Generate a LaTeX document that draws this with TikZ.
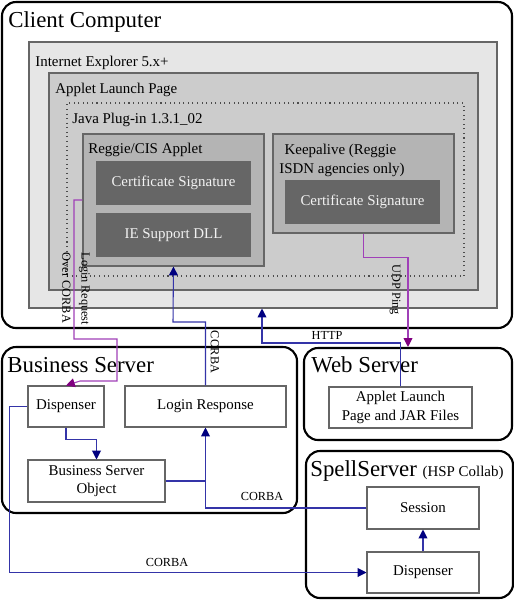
\documentclass[tikz,border=0pt]{standalone}
\usepackage{fontspec}
\setmainfont{Liberation Serif}
\usetikzlibrary{fit, arrows.meta}

\definecolor{iegray}{HTML}{E6E6E6}
\definecolor{pagegray}{HTML}{CCCCCC}
\definecolor{appletgray}{HTML}{B4B4B4}
\definecolor{sigdark}{HTML}{666666}
\definecolor{wireblue}{HTML}{3434A8}
\definecolor{tipblue}{HTML}{000080}
\definecolor{pingpurple}{HTML}{A040B8}
\definecolor{tippurple}{HTML}{800080}

\begin{document}
\begin{tikzpicture}[x=0.02cm, y=-0.02cm,
    server/.style={draw=black, line width=1.2pt, rounded corners=8pt, fill=white, inner sep=0pt},
    shell/.style={draw=black!60, line width=0.6pt, inner sep=0pt},
    sized/.style 2 args={minimum width=#1*0.2mm, minimum height=#2*0.2mm},
    unitbox/.style={shell, fill=white, align=center, font=\fontsize{8.5}{10.5}\selectfont},
    sigbox/.style={shell, fill=sigdark, text=black!5, font=\fontsize{8.5}{10.5}\selectfont},
    srvtitle/.style={anchor=base west, inner sep=0pt, font=\fontsize{13}{15}\selectfont},
    caption/.style={anchor=base west, inner sep=0pt, font=\fontsize{8.5}{10.5}\selectfont},
    wiretag/.style={inner sep=0pt, font=\fontsize{7}{11}\selectfont},
    corba/.style={draw=wireblue, line width=0.6pt},
    ping/.style={draw=pingpurple, line width=0.6pt},
    arrowto/.style={-{Triangle[length=5pt, width=5pt, color=#1]}}]
    \useasboundingbox[fill=white] (0,0) rectangle (514,600);

    % client side
    \node[server, fit={(2,2) (512,328)}] (client) {};
    \node[srvtitle] (clienttitle) at (8,27) {Client Computer};
    \node[shell, fill=iegray, fit={(29,42) (497,308)}] (ie) {};
    \node[caption] (ietitle) at (35,66) {Internet Explorer 5.x+};
    \node[shell, fill=pagegray, fit={(49,73) (478,290)}] (page) {};
    \node[caption] (pagetitle) at (55,93) {Applet Launch Page};
    \node[shell, draw=black!70, dotted, fit={(67,103) (464,276)}] (plugin) {};
    \node[caption] (plugintitle) at (72,123) {Java Plug-in 1.3.1\_02};

    \node[shell, fill=appletgray, fit={(83,134) (264,266)}] (reggie) {};
    \node[caption] (reggietitle) at (88,153) {Reggie/CIS Applet};
    \node[sigbox, sized={153}{42}] (sig1) at (173.5,183) {Certificate Signature};
    \node[sigbox, sized={153}{42}] (dll) at (173.5,235) {IE Support DLL};

    \node[shell, fill=appletgray, fit={(273,134) (454,233)}] (keep) {};
    \node[caption, align=left] (keeptitle) at (279,173) {\hspace*{3pt}Keepalive (Reggie\\ISDN agencies only)};
    \node[sigbox, sized={153}{42}] (sig2) at (362.5,202) {Certificate Signature};

    % business server
    \node[server, fit={(2,347) (297,513)}] (biz) {};
    \node[srvtitle] (biztitle) at (7,372) {Business Server};
    \node[unitbox, sized={76}{41}] (disp) at (66,406.5) {Dispenser};
    \node[unitbox, sized={161}{41}] (login) at (205.5,406.5) {Login Response};
    \node[unitbox, sized={137}{42}] (bso) at (96.5,481) {Business Server\\Object};

    % web server
    \node[server, fit={(304,348) (512,440)}] (web) {};
    \node[srvtitle] (webtitle) at (311,372) {Web Server};
    \node[unitbox, sized={143}{41}] (jar) at (400.5,407.5) {Applet Launch\\Page and JAR Files};

    % spell server
    \node[server, fit={(306,451) (513,598)}] (spell) {};
    \node[srvtitle] (spelltitle) at (310,476) {SpellServer {\fontsize{8.5}{10.5}\selectfont (HSP Collab)}};
    \node[unitbox, sized={112}{42}] (session) at (423,508) {Session};
    \node[unitbox, sized={112}{41}] (sdisp) at (423,572.5) {Dispenser};

    % connectors
    \draw[ping, arrowto=tippurple] (reggie.west) -| (74,339) -| (117,381) -- (80,381) -- (disp.north);
    \node[wiretag, rotate=-90, align=left] (logintag) at (76,289) {Login Request\\Over CORBA};

    \draw[corba, arrowto=tipblue] (login.north) |- (173,322) -- (reggie.south);
    \node[wiretag, rotate=-90] (corbatag1) at (215,352) {CORBA};

    \coordinate (httpbend) at (262,343);
    \draw[corba, arrowto=tipblue] (jar.north) |- (httpbend) -- (httpbend |- ie.south);
    \node[wiretag] (httptag) at (327,335) {HTTP};

    \draw[ping, arrowto=tippurple] (keep.south) -- ++(0,24) -| (web.north);
    \node[wiretag, rotate=-90] (udptag) at (395,290) {UDP Ping};

    \draw[corba, arrowto=tipblue] (disp.south) -- ++(0,12) -| (bso.north);
    \draw[corba] (bso.east) -| (login.south);
    \draw[corba, arrowto=tipblue] (session.west) -| (login.south);
    \node[wiretag] (corbatag2) at (262,496) {CORBA};

    \draw[corba, arrowto=tipblue] (disp.west) -- ++(-18,0) |- (sdisp.west);
    \node[wiretag] (corbatag3) at (167,562) {CORBA};
    \draw[corba, arrowto=tipblue] (sdisp.north) -- (session.south);
\end{tikzpicture}
\end{document}
